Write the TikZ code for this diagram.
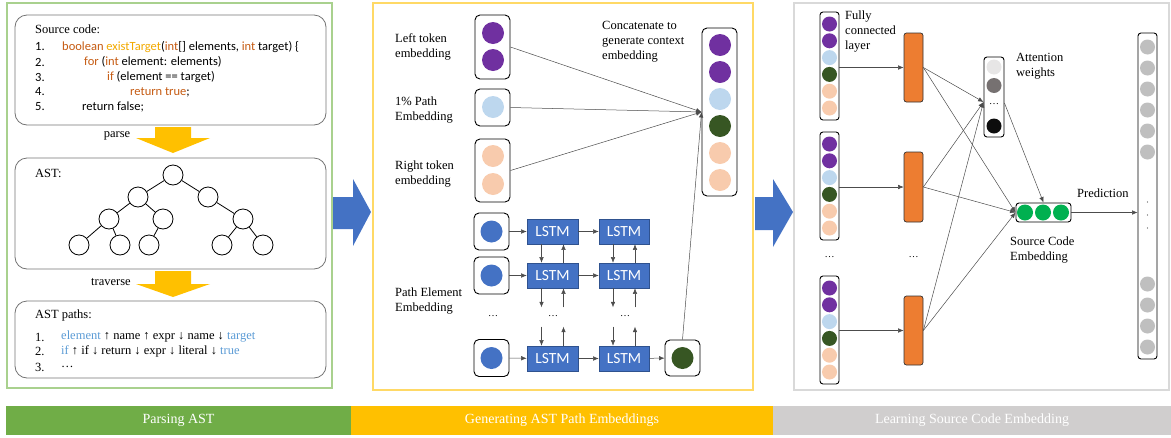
\documentclass[tikz,border=0pt]{standalone}
\usepackage{fontspec}
\setmainfont{Liberation Serif}
\newfontfamily\codefont{Carlito}
\usetikzlibrary{arrows.meta}
\definecolor{pgreen}{HTML}{70AD47}
\definecolor{pyellow}{HTML}{FFC000}
\definecolor{pgray}{HTML}{D0CECE}
\definecolor{bgreen}{HTML}{A9D18E}
\definecolor{byellow}{HTML}{FFD966}
\definecolor{bgray}{HTML}{D9D9D9}
\definecolor{cblue}{HTML}{4472C4}
\definecolor{cbluedark}{HTML}{2F528F}
\definecolor{cpurple}{HTML}{7030A0}
\definecolor{clight}{HTML}{BDD7EE}
\definecolor{cpeach}{HTML}{F8CBAD}
\definecolor{cdgreen}{HTML}{375623}
\definecolor{corange}{HTML}{ED7D31}
\definecolor{kword}{HTML}{C55A11}
\definecolor{kfunc}{HTML}{F2A900}
\definecolor{pathblue}{HTML}{5B9BD5}
\definecolor{agray1}{HTML}{E7E6E6}
\definecolor{agray2}{HTML}{767171}
\definecolor{ablack}{HTML}{0D0D0D}
\definecolor{sgreen}{HTML}{00B050}
\definecolor{ogray}{HTML}{BFBFBF}
\begin{document}
\begin{tikzpicture}[x=1pt,y=-1pt,
  lbl/.style={font=\fontsize{12.5}{15}\selectfont, align=left, inner sep=0pt, anchor=west},
  codetxt/.style={font=\codefont\fontsize{12.5}{14}\selectfont, inner sep=0pt, anchor=west},
  pathtxt/.style={font=\fontsize{12.5}{15}\selectfont, inner sep=0pt, anchor=west},
  rbox/.style={draw=black!55, line width=0.8pt, rounded corners=12pt},
  treenode/.style={circle, draw=black, line width=0.8pt, minimum size=20pt, inner sep=0pt},
  col/.style={draw=black, line width=0.9pt, rounded corners=5pt, inner sep=0pt},
  dot/.style={circle, minimum size=22pt, inner sep=0pt},
  sdot/.style={circle, minimum size=15pt, inner sep=0pt},
  lstm/.style={rectangle, fill=cblue, draw=cbluedark, line width=0.6pt, text=white,
    font=\codefont\fontsize{15.5}{17}\selectfont, inner sep=0pt},
  fc/.style={rectangle, rounded corners=2.5pt, fill=corange, draw=black!80, line width=0.7pt,
    minimum width=19pt, inner sep=0pt},
  thin/.style={-{Latex[length=5.5pt,width=4.5pt]}, line width=0.5pt, draw=black!70},
  bar/.style={rectangle, minimum height=29pt, inner sep=0pt, text=white,
    font=\fontsize{14}{16}\selectfont},
  dots/.style={font=\fontsize{10}{12}\selectfont, inner sep=0pt}
]
\useasboundingbox (0,0) rectangle (1171,437);

% ================= Left panel =================
\draw[bgreen, line width=1.5pt] (7,3) rectangle (332,388);
\draw[rbox] (15,15) rectangle (326,125);
\draw[rbox] (15,158) rectangle (326,269);
\draw[rbox] (15,301) rectangle (326,378);

\node[lbl] (srclbl) at (35,29) {Source code:};
\node[codetxt] (c1n) at (35,47) {1.};
\node[codetxt] (c2n) at (35,62) {2.};
\node[codetxt] (c3n) at (35,77) {3.};
\node[codetxt] (c4n) at (35,92) {4.};
\node[codetxt] (c5n) at (35,107) {5.};
\node[codetxt] (c1t) at (62,47) {\textcolor{kword}{boolean} \textcolor{kfunc}{existTarget}(\textcolor{kword}{int}[] elements, \textcolor{kword}{int} target) \{};
\node[codetxt] (c2t) at (84,62) {\textcolor{kword}{for} (\textcolor{kword}{int} element: elements)};
\node[codetxt] (c3t) at (107,77) {\textcolor{kword}{if} (element == target)};
\node[codetxt] (c4t) at (130,92) {\textcolor{kword}{return true};};
\node[codetxt] (c5t) at (82,107) {return false;};

% parse arrow
\fill[pyellow] (155,127) -- (191,127) -- (191,138) -- (210,138) -- (173,153) -- (136,138) -- (155,138) -- cycle;
\node[pathtxt, anchor=center] (parse) at (117,136) {parse};

% AST
\node[lbl] (astlbl) at (35,173) {AST:};
\node[treenode] (t0) at (173,175) {};
\node[treenode] (t1) at (138,197) {};
\node[treenode] (t2) at (208,197) {};
\node[treenode] (t3) at (109,219) {};
\node[treenode] (t4) at (163,219) {};
\node[treenode] (t5) at (243,219) {};
\node[treenode] (t6) at (79,245) {};
\node[treenode] (t7) at (120,245) {};
\node[treenode] (t8) at (149,245) {};
\node[treenode] (t9) at (222,245) {};
\node[treenode] (t10) at (263,245) {};
\foreach \a/\b in {t0/t1,t0/t2,t1/t3,t1/t4,t2/t5,t3/t6,t3/t7,t4/t8,t5/t9,t5/t10}
  \draw[line width=0.8pt] (\a) -- (\b);

% traverse arrow
\fill[pyellow] (155,271) -- (191,271) -- (191,284) -- (210,284) -- (173,297) -- (136,284) -- (155,284) -- cycle;
\node[pathtxt, anchor=center] (trav) at (111,282) {traverse};

% AST paths
\node[lbl] (pathlbl) at (35,315) {AST paths:};
\node[pathtxt] (p1n) at (35,337) {1.};
\node[pathtxt] (p2n) at (35,351) {2.};
\node[pathtxt] (p3n) at (35,367) {3.};
\node[pathtxt] (p1t) at (61,337) {\textcolor{pathblue}{element} ↑ name ↑ expr ↓ name ↓ \textcolor{pathblue}{target}};
\node[pathtxt] (p2t) at (61,351) {\textcolor{pathblue}{if} ↑ if ↓ return ↓ expr ↓ literal ↓ \textcolor{pathblue}{true}};
\node[pathtxt] (p3t) at (61,367) {…};

% blue block arrows
\fill[cblue] (333,197) -- (353,197) -- (353,179) -- (371,212) -- (353,246) -- (353,229) -- (333,229) -- cycle;
\fill[cblue] (755,197) -- (773,197) -- (773,179) -- (793,212) -- (773,247) -- (773,230) -- (755,230) -- cycle;

% ================= Middle panel =================
\draw[byellow, line width=1.5pt] (373,3) rectangle (753,390);

\node[lbl] (ltlbl) at (395,47) {Left token\\embedding};
\node[lbl] (pelbl) at (395,110) {1\% Path\\Embedding};
\node[lbl] (rtlbl) at (395,174) {Right token\\embedding};
\node[lbl] (cclbl) at (602,42) {Concatenate to\\generate context\\embedding};
\node[lbl] (pelbl2) at (395,301) {Path Element\\Embedding};

\node[col, minimum width=35pt, minimum height=64pt] (lt) at (492.5,47) {};
\node[dot, fill=cpurple] (lt1) at (493,33) {};
\node[dot, fill=cpurple] (lt2) at (493,60) {};
\node[col, minimum width=35pt, minimum height=37pt] (pe) at (492.5,107.5) {};
\node[dot, fill=clight] (pe1) at (493,107) {};
\node[col, minimum width=35pt, minimum height=63pt] (rt) at (492.5,170.5) {};
\node[dot, fill=cpeach] (rt1) at (493,156) {};
\node[dot, fill=cpeach] (rt2) at (493,184) {};

\node[col, minimum width=35pt, minimum height=168pt] (cc) at (719.5,112) {};
\foreach \yy/\cc [count=\i] in {45/cpurple,72/cpurple,99/clight,126/cdgreen,153/cpeach,180/cpeach}
  \node[dot, fill=\cc] (cc\i) at (720,\yy) {};

% LSTM grid
\foreach \r/\yy in {1/231.5,2/275.5,3/358}{
  \node[col, minimum width=35pt, minimum height=37pt] (in\r) at (491.5,\yy) {};
  \node[dot, fill=cblue] (ind\r) at (491.5,\yy) {};
}
\foreach \r/\yy in {1/231.5,2/275.5,3/358.5}{
  \node[lstm, minimum width=51pt, minimum height=25pt] (la\r) at (552.5,\yy) {LSTM};
  \node[lstm, minimum width=50pt, minimum height=25pt] (lb\r) at (624,\yy) {LSTM};
}
\node[col, minimum width=35pt, minimum height=36pt] (outb) at (682.5,358) {};
\node[dot, fill=cdgreen] (outd) at (682.5,358) {};

\foreach \r in {1,2,3}{
  \draw[thin] (in\r) -- (la\r);
  \draw[thin] (la\r) -- (lb\r);
}
\draw[thin] (lb3) -- (outb);

\foreach \c in {la,lb}{
  \draw[thin] ([xshift=-11pt]\c1.south) -- ([xshift=-11pt]\c2.north);
  \draw[thin] ([xshift=11pt]\c2.north) -- ([xshift=11pt]\c1.south);
  \draw[thin] ([xshift=-11pt]\c2.south) -- ++(0,19);
  \draw[thin] ([xshift=11pt,yshift=-19pt]\c2.south) -- ([xshift=11pt]\c2.south);
  \draw[thin] ([xshift=-11pt,yshift=19pt]\c3.north) -- ([xshift=-11pt]\c3.north);
  \draw[thin] ([xshift=11pt]\c3.north) -- ++(0,-19);
}
\node[dots] (d1) at (493,316) {…};
\node[dots] (d2) at (553,316) {…};
\node[dots] (d3) at (625,316) {…};

\draw[thin] (lt.east) -- (cc.west);
\draw[thin] (pe.east) -- (cc.west);
\draw[thin] (rt.east) -- (cc.west);
\draw[thin] (outb.north) -- (cc.west);

% ================= Right panel =================
\draw[bgray, line width=1.5pt] (794,3) rectangle (1169,390);

\foreach \k/\yy in {1/66,2/186,3/330}{
  \node[col, rounded corners=3pt, minimum width=19pt, minimum height=108pt] (ic\k) at (829.5,\yy) {};
  \foreach \dy/\cc [count=\i] in {-42/cpurple,-25.2/cpurple,-8.4/clight,8.4/cdgreen,25.2/cpeach,42/cpeach}
    \node[sdot, fill=\cc] (ic\k d\i) at (829.5,\yy+\dy) {};
}
\node[dots] (d4) at (829.5,257) {…};

\node[fc, minimum height=69pt] (fc1) at (913.5,67.5) {};
\node[fc, minimum height=70pt] (fc2) at (913.5,187) {};
\node[fc, minimum height=69pt] (fc3) at (913.5,330.5) {};
\node[dots] (d5) at (913.5,257) {…};

\node[lbl] (fclbl) at (845,32) {Fully\\connected\\layer};

\node[col, rounded corners=3pt, minimum width=20pt, minimum height=80pt] (att) at (994,97) {};
\node[sdot, fill=agray1] (att1) at (994,67) {};
\node[sdot, fill=agray2] (att2) at (994,85.5) {};
\node[dots] (att3) at (994,104) {…};
\node[sdot, fill=ablack] (att4) at (994,126) {};
\node[lbl] (attlbl) at (1016,66) {Attention\\weights};

\node[col, rounded corners=3pt, minimum width=55pt, minimum height=19pt] (emb) at (1043.5,212.5) {};
\foreach \xx [count=\i] in {1025,1043,1061}
  \node[sdot, minimum size=16pt, fill=sgreen] (emb\i) at (\xx,212.5) {};
\node[lbl] (emblbl) at (1010,250) {Source Code\\Embedding};
\node[lbl] (predlbl) at (1077,193) {Prediction};

\node[col, rounded corners=3pt, minimum width=19pt, minimum height=326pt] (oc) at (1147.5,196) {};
\foreach \yy [count=\i] in {47,68,89,110,131,152,284,305,326,347}
  \node[sdot, fill=ogray] (oc\i) at (1147.5,\yy) {};
\foreach \yy [count=\i] in {202,215,228}
  \fill[black!70] (1147.5,\yy) circle (0.6pt);

\foreach \k in {1,2,3}
  \draw[thin] (ic\k.east |- fc\k.west) -- (fc\k.west);
\foreach \k in {1,2,3}{
  \draw[thin] (fc\k.east) -- ([yshift=-5pt]att.west);
  \draw[thin] (fc\k.east) -- (emb.west);
}
\draw[thin] ([yshift=-6pt]att.east) -- (emb.north);
\draw[thin] (emb.east) -- (emb.east -| oc.west);

% ================= Bottom bar =================
\node[bar, fill=pgreen, minimum width=345pt] (b1) at (178.5,420.5) {Parsing AST};
\node[bar, fill=pyellow, minimum width=422pt] (b2) at (562,420.5) {Generating AST Path Embeddings};
\node[bar, fill=pgray, minimum width=398pt] (b3) at (972,420.5) {Learning Source Code Embedding};
\end{tikzpicture}
\end{document}
